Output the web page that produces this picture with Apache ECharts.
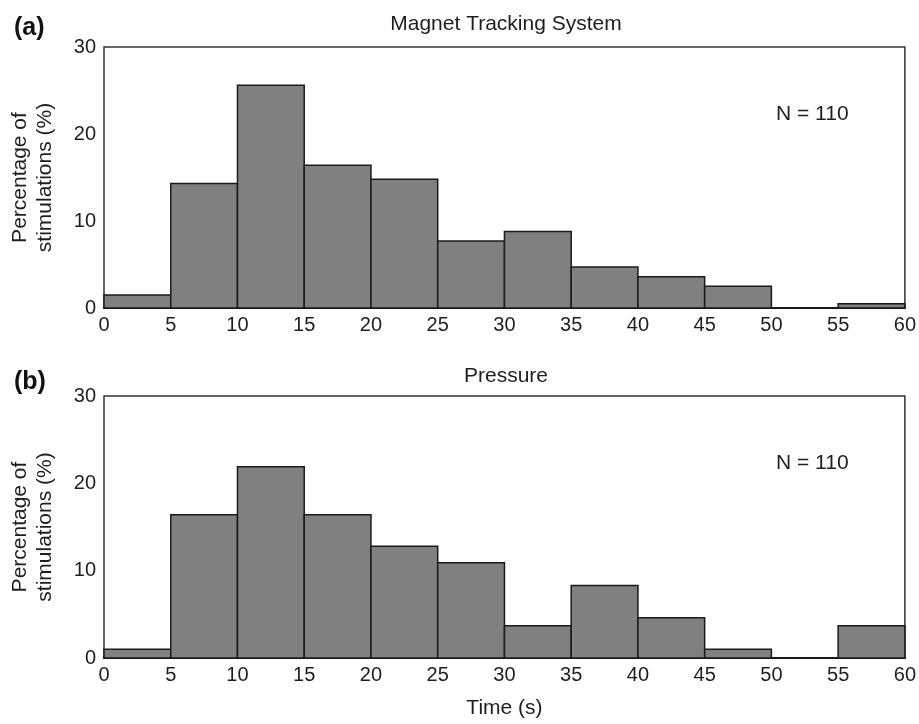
<!DOCTYPE html>
<html>
<head>
<meta charset="utf-8">
<script src="https://cdn.jsdelivr.net/npm/echarts@6/dist/echarts.min.js"></script>
<style>html,body{margin:0;padding:0;background:#fff}#c{width:919px;height:724px}</style>
</head>
<body>
<div id="c"></div>
<script>
var binEdges = [0,5,10,15,20,25,30,35,40,45,50,55,60];
var magnetValues = [1.5, 14.3, 25.6, 16.4, 14.8, 7.7, 8.8, 4.7, 3.6, 2.5, 0, 0.5];
var pressureValues = [1.0, 16.4, 21.9, 16.4, 12.8, 10.9, 3.7, 8.3, 4.6, 1.0, 0, 3.7];
var xTicks = [0,5,10,15,20,25,30,35,40,45,50,55,60];
var yTicks = [0,10,20,30];
var titles = ['Magnet Tracking System', 'Pressure'];
var panelLabels = ['(a)', '(b)'];
var nLabel = 'N = 110';

var FONT = '"Liberation Sans", Arial, sans-serif';
var TXT = '#1e1e1e';

function toData(vals){
  return vals.map(function(v,i){ return [binEdges[i], binEdges[i+1], v]; });
}
function renderItem(params, api){
  var p0 = api.coord([api.value(0), api.value(2)]);
  var p1 = api.coord([api.value(1), 0]);
  return {
    type: 'rect',
    shape: {x: p0[0], y: p0[1], width: p1[0]-p0[0], height: p1[1]-p0[1]},
    style: {fill: '#808080', stroke: '#1a1a1a', lineWidth: 1.5}
  };
}
var grids = [
  {left: 103, right: 12, top: 47, height: 261},
  {left: 103, right: 12, top: 396, height: 262}
];
grids.forEach(function(g){ g.show = true; g.borderColor = '#333'; g.borderWidth = 1.5; g.backgroundColor = 'transparent'; });

function xAxis(i){
  return {
    type: 'value', gridIndex: i, min: 0, max: 60, interval: 5,
    axisLine: {show: true, lineStyle: {color: '#1a1a1a', width: 2}},
    axisTick: {show: false}, splitLine: {show: false},
    axisLabel: {color: TXT, fontSize: 20, fontFamily: FONT, margin: 7},
    name: i === 1 ? 'Time (s)' : '', nameLocation: 'middle', nameGap: 40,
    nameTextStyle: {color: TXT, fontSize: 21, fontFamily: FONT}
  };
}
function yAxis(i){
  return {
    type: 'value', gridIndex: i, min: 0, max: 30, interval: 10,
    axisLine: {show: false}, axisTick: {show: false}, splitLine: {show: false},
    axisLabel: {color: TXT, fontSize: 20, fontFamily: FONT, margin: 8},
    name: 'Percentage of\nstimulations (%)', nameLocation: 'middle', nameGap: 46,
    nameTextStyle: {color: TXT, fontSize: 21, fontFamily: FONT, lineHeight: 25}
  };
}

var chart = echarts.init(document.getElementById('c'));
chart.setOption({
  animation: false,
  backgroundColor: '#fff',
  title: [
    {text: titles[0], left: 501, top: 9, textAlign: 'center', textStyle: {fontSize: 21, fontWeight: 'normal', color: TXT, fontFamily: FONT}},
    {text: titles[1], left: 501, top: 361, textAlign: 'center', textStyle: {fontSize: 21, fontWeight: 'normal', color: TXT, fontFamily: FONT}}
  ],
  grid: grids,
  xAxis: [xAxis(0), xAxis(1)],
  yAxis: [yAxis(0), yAxis(1)],
  graphic: [
    {type: 'text', left: 14, top: 16, style: {text: panelLabels[0], fill: '#111', font: 'bold 25px ' + FONT}},
    {type: 'text', left: 14, top: 370, style: {text: panelLabels[1], fill: '#111', font: 'bold 25px ' + FONT}},
    {type: 'text', left: 776, top: 104, style: {text: nLabel, fill: TXT, font: '21px ' + FONT}},
    {type: 'text', left: 776, top: 453, style: {text: nLabel, fill: TXT, font: '21px ' + FONT}}
  ],
  series: [
    {type: 'custom', xAxisIndex: 0, yAxisIndex: 0, renderItem: renderItem, data: toData(magnetValues), encode: {x: [0,1], y: 2}},
    {type: 'custom', xAxisIndex: 1, yAxisIndex: 1, renderItem: renderItem, data: toData(pressureValues), encode: {x: [0,1], y: 2}}
  ]
});
</script>
</body>
</html>
